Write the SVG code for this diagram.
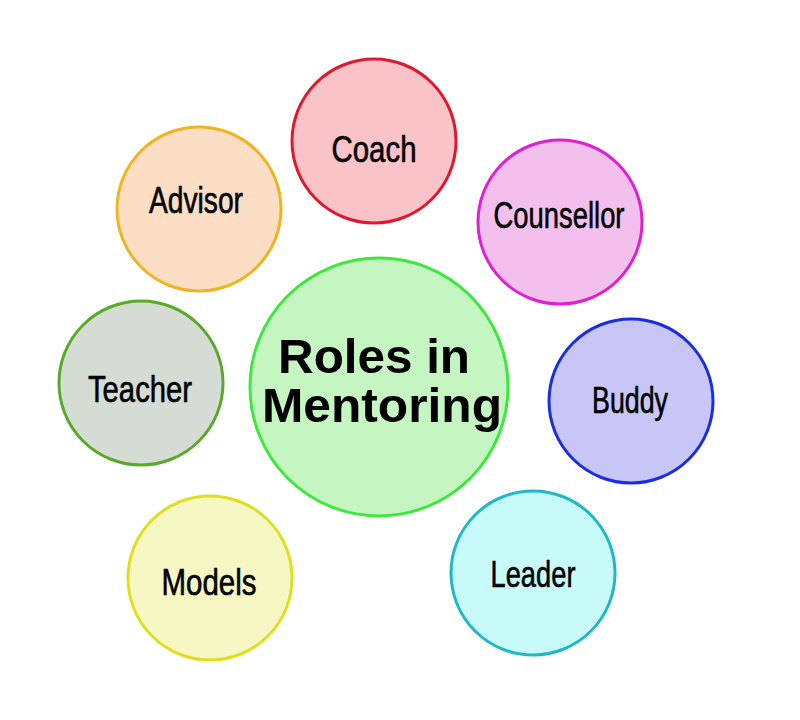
<svg xmlns="http://www.w3.org/2000/svg" width="800" height="720" viewBox="0 0 800 720">
<style>
circle{stroke-width:3}
.lbl{font-family:"Liberation Sans",Arial,sans-serif;font-size:36px;fill:#000;stroke:#000;stroke-width:0.6;text-anchor:middle}
.ttl{font-family:"Liberation Sans",Arial,sans-serif;font-size:49px;font-weight:bold;fill:#000;text-anchor:middle}
</style>
<rect width="800" height="720" fill="#fff"/>
<g id="center">
<circle cx="379" cy="387" r="129" fill="#c5f5c0" stroke="#3de83d"/>
<text class="ttl" x="374" y="373" textLength="192" lengthAdjust="spacingAndGlyphs">Roles in</text>
<text class="ttl" x="382" y="422" textLength="240" lengthAdjust="spacingAndGlyphs">Mentoring</text>
</g>
<g id="coach">
<circle cx="374" cy="141" r="82" fill="#f9c3c8" stroke="#e0182e"/>
<text class="lbl" x="374" y="162" textLength="85" lengthAdjust="spacingAndGlyphs">Coach</text>
</g>
<g id="advisor">
<circle cx="199" cy="209" r="82" fill="#fcdec4" stroke="#f0b420"/>
<text class="lbl" x="196" y="213" textLength="94" lengthAdjust="spacingAndGlyphs">Advisor</text>
</g>
<g id="counsellor">
<circle cx="560" cy="222" r="82" fill="#f3c0ee" stroke="#e020d0"/>
<text class="lbl" x="559" y="228" textLength="131" lengthAdjust="spacingAndGlyphs">Counsellor</text>
</g>
<g id="teacher">
<circle cx="141" cy="383" r="82" fill="#d5dcd4" stroke="#5aaa2a"/>
<text class="lbl" x="140" y="402" textLength="104" lengthAdjust="spacingAndGlyphs">Teacher</text>
</g>
<g id="buddy">
<circle cx="631" cy="401" r="82" fill="#c8c6f6" stroke="#1a2ee0"/>
<text class="lbl" x="630" y="413" textLength="76" lengthAdjust="spacingAndGlyphs">Buddy</text>
</g>
<g id="models">
<circle cx="210" cy="578" r="82" fill="#f7f7c4" stroke="#dde020"/>
<text class="lbl" x="209" y="595" textLength="95" lengthAdjust="spacingAndGlyphs">Models</text>
</g>
<g id="leader">
<circle cx="533" cy="573" r="82" fill="#c8fafa" stroke="#20b8c8"/>
<text class="lbl" x="533" y="587" textLength="85" lengthAdjust="spacingAndGlyphs">Leader</text>
</g>
<g id="connectors"></g>
</svg>
